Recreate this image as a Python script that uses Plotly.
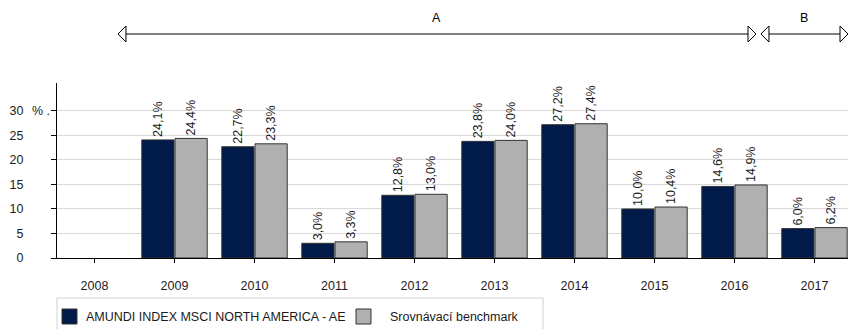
import plotly.graph_objects as go

# Calendar-year performance of the fund vs. its benchmark
years = ["2008", "2009", "2010", "2011", "2012", "2013", "2014", "2015", "2016", "2017"]
fund = [None, 24.1, 22.7, 3.0, 12.8, 23.8, 27.2, 10.0, 14.6, 6.0]
bench = [None, 24.4, 23.3, 3.3, 13.0, 24.0, 27.4, 10.4, 14.9, 6.2]
fund_name = "AMUNDI INDEX MSCI NORTH AMERICA - AE"
bench_name = "Srovnávací benchmark"
y_ticks = [0, 5, 10, 15, 20, 25, 30]

# Period brackets drawn above the bars (x in category units)
periods = [("A", 0.293, 8.269), ("B", 8.331, 9.419)]

FUND_COLOR = "#001a4a"
BENCH_COLOR = "#b0b0b0"
FONT = "Liberation Sans, Arial, sans-serif"
FS = 12.5

# plot area geometry (pixels)
W, H = 848, 329
ML, MR, MT, MB = 57, 0, 83, 71
PW, PH = W - ML - MR, H - MT - MB
X0, X1 = -0.469, 9.419
Y1 = 35.71


def px_x(px):
    return (px - ML) / PW


def px_y(py):
    return (H - MB - py) / PH


def label(v):
    return "" if v is None else f"{v:.1f}".replace(".", ",") + "%"


fig = go.Figure()
for name, vals, color in [(fund_name, fund, FUND_COLOR), (bench_name, bench, BENCH_COLOR)]:
    fig.add_trace(go.Bar(
        x=years, y=vals, name=name,
        marker=dict(color=color, line=dict(color="#333333", width=1)),
        text=[label(v) for v in vals],
        textposition="outside", textangle=-90,
        textfont=dict(family=FONT, size=FS, color="#1a1a1a"),
        constraintext="none", cliponaxis=False,
        showlegend=False,
    ))

shapes = []
annotations = []

# period arrows with open triangular heads
ay = px_y(34)
for name, xa, xb in periods:
    shapes.append(dict(type="line", xref="x", yref="paper", x0=xa, x1=xb, y0=ay, y1=ay,
                       line=dict(color="#000000", width=1)))
    for xt, d in [(xa, 1), (xb, -1)]:
        shapes.append(dict(type="path", xref="x", yref="paper",
                           xsizemode="pixel", ysizemode="pixel",
                           xanchor=xt, yanchor=ay,
                           path=f"M0,0 L{8*d},8 L{8*d},-8 Z",
                           fillcolor="white", line=dict(color="#000000", width=1)))
    annotations.append(dict(text=name, xref="x", yref="paper", x=(xa + xb) / 2,
                            y=px_y(18), xanchor="center", yanchor="middle", showarrow=False,
                            font=dict(family=FONT, size=FS, color="#000000")))

# unit marker beside the top tick label
annotations.append(dict(text="% .", xref="paper", yref="y", x=px_x(30), y=30,
                        xanchor="left", yanchor="middle", showarrow=False,
                        font=dict(family=FONT, size=FS, color="#1a1a1a")))

# legend box
shapes.append(dict(type="rect", xref="paper", yref="paper",
                   x0=px_x(57), x1=px_x(543), y0=px_y(340), y1=px_y(298),
                   line=dict(color="#d0d0d0", width=1), fillcolor="white"))
for (name, color, sx, tx) in [(fund_name, FUND_COLOR, 62, 84), (bench_name, BENCH_COLOR, 356, 388)]:
    shapes.append(dict(type="rect", xref="paper", yref="paper",
                       x0=px_x(sx), x1=px_x(sx + 15), y0=px_y(324), y1=px_y(309),
                       line=dict(color="#333333", width=1), fillcolor=color))
    annotations.append(dict(text=name, xref="paper", yref="paper", x=px_x(tx), y=px_y(317),
                            xanchor="left", yanchor="middle", showarrow=False,
                            font=dict(family=FONT, size=FS, color="#1a1a1a")))

fig.update_layout(
    width=W, height=H,
    margin=dict(l=ML, r=MR, t=MT, b=MB, pad=0),
    paper_bgcolor="white", plot_bgcolor="white",
    barmode="group", bargap=0.17, bargroupgap=0.03,
    font=dict(family=FONT, size=FS, color="#1a1a1a"),
    shapes=shapes, annotations=annotations,
    xaxis=dict(
        type="category", range=[X0, X1],
        showline=True, linecolor="#000000", linewidth=1,
        ticks="outside", ticklen=4, tickcolor="#000000",
        showgrid=False, ticklabelstandoff=12,
        tickfont=dict(family=FONT, size=FS, color="#1a1a1a"),
    ),
    yaxis=dict(
        range=[0, Y1], tickvals=y_ticks, ticktext=[str(v) for v in y_ticks],
        showline=True, linecolor="#000000", linewidth=1,
        ticks="outside", ticklen=5, tickcolor="#000000",
        showgrid=True, gridcolor="#d9d9d9", gridwidth=1,
        zeroline=False, ticklabelstandoff=25,
        tickfont=dict(family=FONT, size=FS, color="#1a1a1a"),
    ),
)

fig.write_html("out.html")
